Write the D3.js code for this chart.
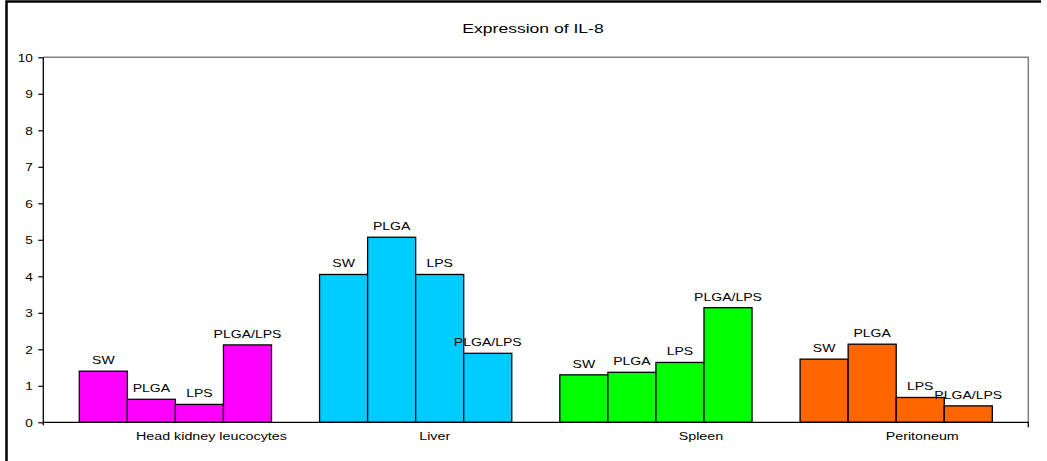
<!DOCTYPE html>
<html><head><meta charset="utf-8">
<script src="https://cdn.jsdelivr.net/npm/d3@7"></script>
<style>
body{margin:0;background:#fff}
svg{display:block}
text{font-family:"Liberation Sans",Arial,sans-serif;fill:#000}
</style>
</head><body>
<svg id="chart" width="1047" height="461"></svg>
<script>
// ---- data ----
const categories = ["Head kidney leucocytes", "Liver", "Spleen", "Peritoneum"];
const treatments = ["SW", "PLGA", "LPS", "PLGA/LPS"];
const headKidney = [1.40, 0.63, 0.49, 2.12];
const liver = [4.05, 5.07, 4.05, 1.89];
const spleen = [1.30, 1.37, 1.64, 3.14];
const peritoneum = [1.73, 2.14, 0.68, 0.45];
const yTicks = [0, 1, 2, 3, 4, 5, 6, 7, 8, 9, 10];
const chartTitle = "Expression of IL-8";

// ---- layout / style ----
const colors = ["#FF00FF", "#00CCFF", "#00FF00", "#FF6600"];
const plot = {left: 43.3, right: 1028.3, top: 57.3, bottom: 422.3};
const stretch = 1.3;
const labelShift = [36, 19, 45, 26];

const seriesByCategory = [headKidney, liver, spleen, peritoneum];
const svg = d3.select("#chart");

function stext(sel, x, y, str, size, anchor, sx) {
  return sel.append("text")
    .attr("transform", `translate(${x},${y}) scale(${sx || stretch},1)`)
    .attr("text-anchor", anchor || "middle")
    .attr("font-size", size)
    .text(str);
}

const y = d3.scaleLinear().domain([0, 10]).range([plot.bottom, plot.top]);
const xCluster = d3.scaleBand().domain(categories).range([79.3, 992.3]).paddingInner(0.2).paddingOuter(0);
const xInner = d3.scaleBand().domain(treatments).range([0, xCluster.bandwidth()]).padding(0);

// outer frame
svg.append("path").attr("d", "M6.5,461 V1.5 H1041").attr("fill", "none").attr("stroke", "#000").attr("stroke-width", 2.5);

// plot frame (top/right)
svg.append("path")
  .attr("d", `M${plot.left},${plot.top} H${plot.right} V${plot.bottom}`)
  .attr("fill", "none").attr("stroke", "#808080").attr("stroke-width", 1.5);

// title
stext(svg, 533, 33, chartTitle, 13.5, "middle", 1.3);

// y axis
const yAxis = svg.append("g").attr("transform", `translate(${plot.left},0)`)
  .call(d3.axisLeft(y).tickValues(yTicks).tickSize(5).tickSizeOuter(0));
yAxis.select(".domain").attr("stroke", "#000").attr("stroke-width", 1.3)
  .attr("d", `M0,${plot.top}V${plot.bottom + 3}`);
yAxis.selectAll(".tick line").attr("stroke", "#000").attr("stroke-width", 1.2);
yAxis.selectAll(".tick text")
  .attr("x", null).attr("dy", "0.36em")
  .attr("transform", `translate(-10.5,0) scale(1.3,1)`)
  .attr("font-size", 10.5).attr("font-family", '"Liberation Sans",Arial,sans-serif')
  .attr("fill", "#000");

// bars
categories.forEach((cat, ci) => {
  const g = svg.append("g").attr("transform", `translate(${xCluster(cat)},0)`);
  const vals = seriesByCategory[ci];
  g.selectAll("rect").data(treatments).join("rect")
    .attr("x", t => xInner(t))
    .attr("y", (t, i) => y(vals[i]))
    .attr("width", xInner.bandwidth())
    .attr("height", (t, i) => y(0) - y(vals[i]))
    .attr("fill", colors[ci])
    .attr("stroke", "#000").attr("stroke-width", 1.3);
  treatments.forEach((t, i) => {
    stext(g, xInner(t) + xInner.bandwidth() / 2, y(vals[i]) - 7, t, 10.8);
  });
  stext(svg, xCluster(cat) + xCluster.bandwidth() / 2 + labelShift[ci], 440, cat, 11);
});

// x axis
svg.append("path").attr("d", `M${plot.left},${plot.bottom}H${plot.right}v5`)
  .attr("fill", "none").attr("stroke", "#000").attr("stroke-width", 1.3);
</script>
</body></html>
